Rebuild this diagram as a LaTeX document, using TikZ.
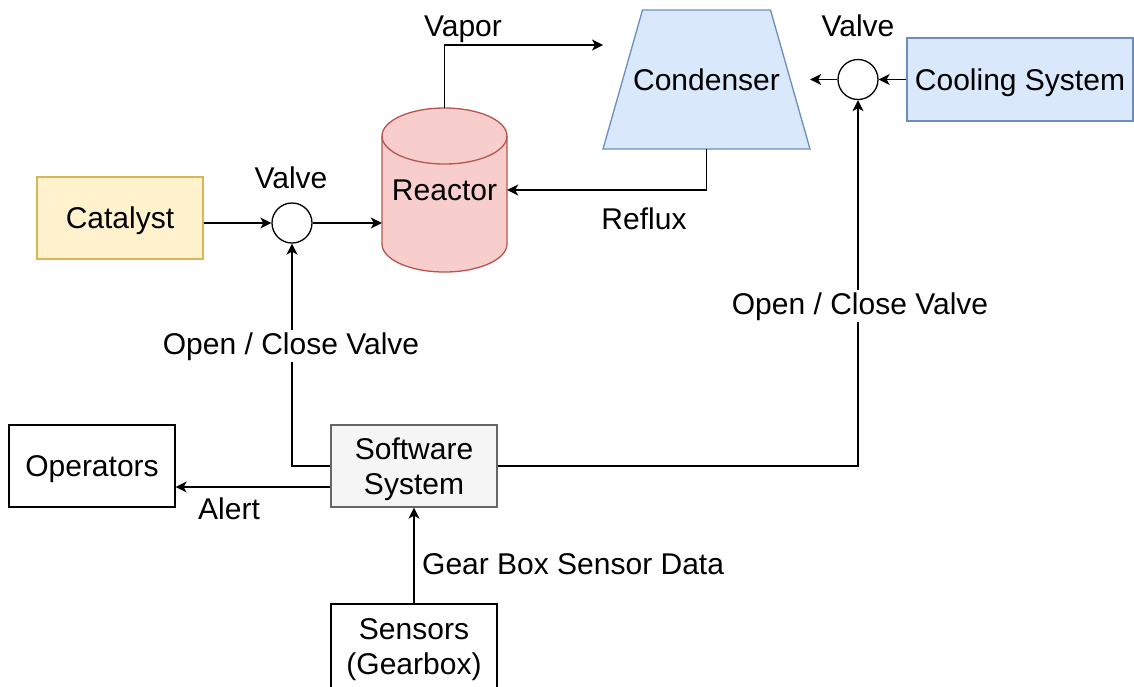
\documentclass[tikz,border=0pt]{standalone}
\usepackage{fontspec}
\setmainfont{Liberation Sans}
\usetikzlibrary{arrows.meta,calc}
\definecolor{catfill}{HTML}{FFF2CC}
\definecolor{catline}{HTML}{D6B656}
\definecolor{redfill}{HTML}{F8CECC}
\definecolor{redline}{HTML}{B85450}
\definecolor{bluefill}{HTML}{DAE8FC}
\definecolor{blueline}{HTML}{6C8EBF}
\definecolor{grayfill}{HTML}{F5F5F5}
\definecolor{grayline}{HTML}{666666}
\tikzset{
  every node/.style={font=\fontsize{30}{36}\selectfont},
  box/.style={draw, line width=1.3pt, minimum width=166pt, minimum height=82pt, inner sep=0pt, align=center},
  onel/.style={text height=21.5pt, text depth=0pt},
  twol/.style={text depth=0pt},
  valvec/.style={draw, circle, line width=1.3pt, minimum size=40pt, inner sep=0pt, fill=white},
  lbl/.style={anchor=base, inner sep=0pt},
  wlbl/.style={anchor=base, inner sep=2pt, fill=white},
  arr/.style={line width=1.3pt, -{Stealth[length=11pt,width=11pt,inset=3pt]}},
  ghost/.style={inner sep=0pt}
}
\begin{document}
\begin{tikzpicture}[x=1pt,y=-1pt]
\useasboundingbox (0,0) rectangle (1134,686);

% boxes
\node[box, onel, fill=catfill, draw=catline] (cat) at (120,218) {Catalyst};
\node[box, onel] (op) at (92,466) {Operators};
\node[box, twol, fill=grayfill, draw=grayline] (sw) at (414,466) {Software\\[-1pt]System};
\node[box, twol, minimum height=86pt] (sens) at (414,647) {Sensors\\[-1pt](Gearbox)};
\node[box, onel, fill=bluefill, draw=blueline, minimum width=226pt, minimum height=83pt] (cool) at (1020,79.5) {Cooling System};

% valves
\node[valvec] (v1) at (292,223) {};
\node[valvec] (v2) at (858,79.5) {};

% reactor (cylinder)
\node[ghost, minimum width=125pt, minimum height=164pt] (reac) at (444.5,190) {};
\filldraw[fill=redfill, draw=redline, line width=1.3pt]
  (382,136) -- (382,244) arc[start angle=180, end angle=360, x radius=62.5pt, y radius=28pt]
  -- (507,136) arc[start angle=0, end angle=180, x radius=62.5pt, y radius=28pt] -- cycle;
\draw[draw=redline, line width=1.3pt]
  (382,136) arc[start angle=180, end angle=360, x radius=62.5pt, y radius=28pt];
\node[onel] (reactxt) at (444.5,190) {Reactor};

% condenser (trapezoid)
\node[ghost, minimum width=207pt, minimum height=139pt] (cond) at (706.5,79.5) {};
\filldraw[fill=bluefill, draw=blueline, line width=1.3pt]
  (603,149) -- (642.5,10) -- (770.5,10) -- (810,149) -- cycle;
\node[onel] (condtxt) at (706.5,79.5) {Condenser};

% connectors
\coordinate (vapend) at (603,45);
\draw[arr] (reac.north) |- (vapend);
\draw[arr] (cond.south) |- (reac.east);
\draw[arr] (v1.west -| cat.east) -- (v1.west);
\draw[arr] (v1.east) -- (v1.east -| reac.west);
\draw[arr] (cool.west) -- (v2.east);
\draw[arr] (v2.west) -- (cond.east);
\draw[arr] (sw.west) -| (v1.south);
\draw[arr] (sw.east) -| (v2.south);
\draw[arr] ([yshift=-21pt]sw.west) -- ([yshift=-21pt]sw.west -| op.east);
\draw[arr] (sens.north) -- (sw.south);

% labels
\node[lbl] (lvalve1) at (291,188) {Valve};
\node[lbl] (lvalve2) at (858,36) {Valve};
\node[lbl] (lvapor) at (463,36) {Vapor};
\node[lbl] (lreflux) at (644,229) {Reflux};
\node[lbl] (lalert) at (229,519) {Alert};
\node[wlbl] (locv1) at (291,354) {Open / Close Valve};
\node[wlbl] (locv2) at (860,314) {Open / Close Valve};
\node[lbl, anchor=base west] (lgear) at (422,574) {Gear Box Sensor Data};
\end{tikzpicture}
\end{document}
